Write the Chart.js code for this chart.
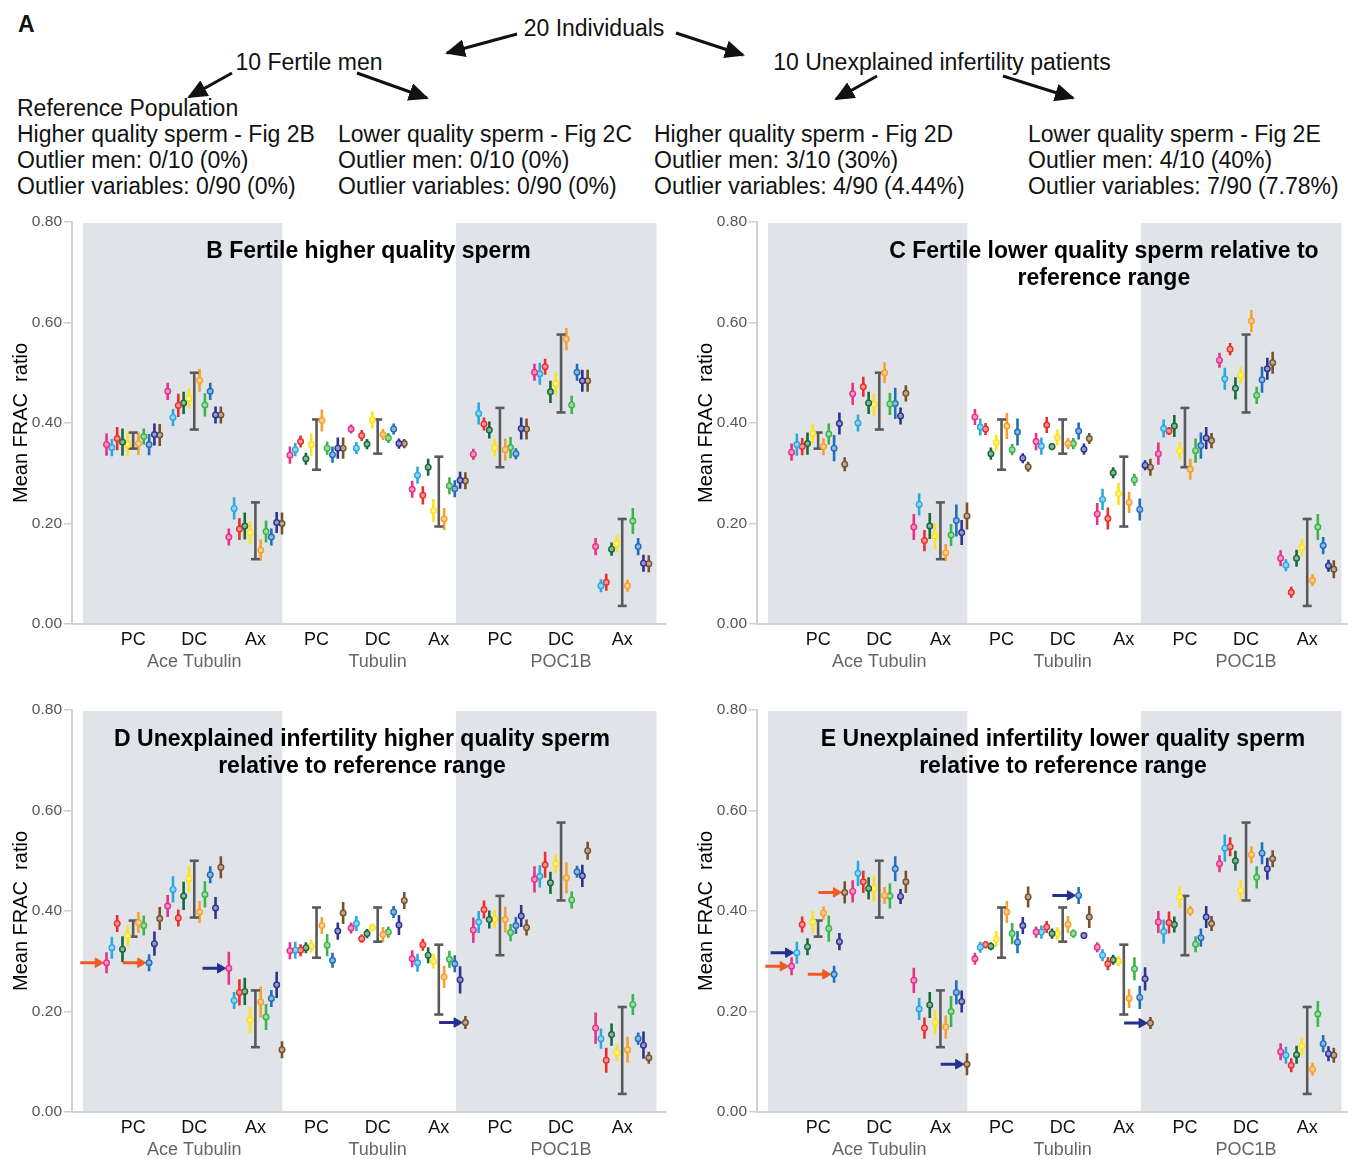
<!DOCTYPE html>
<html>
<head>
<meta charset="utf-8">
<script src="https://cdn.jsdelivr.net/npm/chart.js@4.4.0/dist/chart.umd.min.js"></script>
<style>
html, body { margin: 0; padding: 0; background: #fff; }
body { width: 1348px; height: 1159px; overflow: hidden; position: relative;
       font-family: 'Liberation Sans', Arial, Helvetica, sans-serif; color: #111; }
.t { position: absolute; font-size: 23px; line-height: 26px; white-space: nowrap; }
.c { text-align: center; }
canvas { position: absolute; }
svg { position: absolute; left: 0; top: 0; }
</style>
</head>
<body>
<div class="t" style="left:18px;top:11px;font-weight:bold;font-size:23px">A</div>
<div class="t c" style="left:444px;top:15px;width:300px">20 Individuals</div>
<div class="t c" style="left:159px;top:49px;width:300px">10 Fertile men</div>
<div class="t c" style="left:742px;top:49px;width:400px">10 Unexplained infertility patients</div>
<div class="t" style="left:17px;top:95px">Reference Population<br>Higher quality sperm - Fig 2B<br>Outlier men: 0/10 (0%)<br>Outlier variables: 0/90 (0%)</div>
<div class="t" style="left:338px;top:121px">Lower quality sperm - Fig 2C<br>Outlier men: 0/10 (0%)<br>Outlier variables: 0/90 (0%)</div>
<div class="t" style="left:654px;top:121px">Higher quality sperm - Fig 2D<br>Outlier men: 3/10 (30%)<br>Outlier variables: 4/90 (4.44%)</div>
<div class="t" style="left:1028px;top:121px">Lower quality sperm - Fig 2E<br>Outlier men: 4/10 (40%)<br>Outlier variables: 7/90 (7.78%)</div>

<svg width="1348" height="210">
  <defs>
    <marker id="ah" markerUnits="userSpaceOnUse" markerWidth="20" markerHeight="18" refX="18" refY="9" orient="auto">
      <path d="M0,0 L20,9 L0,18 z" fill="#111"/>
    </marker>
  </defs>
  <g stroke="#111" stroke-width="3" marker-end="url(#ah)">
    <line x1="517" y1="34" x2="447" y2="53"/>
    <line x1="676" y1="33" x2="743" y2="55"/>
    <line x1="232" y1="73" x2="189" y2="97"/>
    <line x1="357" y1="73" x2="427" y2="98"/>
    <line x1="877" y1="76" x2="836" y2="99"/>
    <line x1="1003" y1="76" x2="1073" y2="98"/>
  </g>
</svg>

<canvas id="panelB" width="675" height="470" style="left:0px;top:205px"></canvas>
<canvas id="panelC" width="675" height="470" style="left:685px;top:205px"></canvas>
<canvas id="panelD" width="675" height="470" style="left:0px;top:693px"></canvas>
<canvas id="panelE" width="675" height="470" style="left:685px;top:693px"></canvas>

<script>
// categories
const groups = ['PC', 'DC', 'Ax', 'PC', 'DC', 'Ax', 'PC', 'DC', 'Ax'];
const proteins = ['Ace Tubulin', 'Tubulin', 'POC1B'];
const proteinAt = [1, 4, 7];

// reference range of the fertile population, one per group
const refLow  = [0.349, 0.387, 0.129, 0.307, 0.339, 0.194, 0.312, 0.421, 0.036];
const refHigh = [0.381, 0.500, 0.242, 0.407, 0.407, 0.333, 0.430, 0.576, 0.209];

// one row per group, one value per man (10 men)
const meanB = [
  [0.357, 0.351, 0.369, 0.362, 0.357, 0.359, 0.373, 0.357, 0.377, 0.376],
  [0.463, 0.411, 0.435, 0.440, 0.449, 0.485, 0.436, 0.463, 0.416, 0.416],
  [0.173, 0.230, 0.189, 0.195, 0.182, 0.147, 0.184, 0.173, 0.202, 0.200],
  [0.336, 0.347, 0.363, 0.329, 0.357, 0.405, 0.350, 0.337, 0.350, 0.350],
  [0.388, 0.350, 0.375, 0.358, 0.406, 0.377, 0.370, 0.388, 0.359, 0.359],
  [0.268, 0.296, 0.256, 0.312, 0.226, 0.209, 0.275, 0.269, 0.286, 0.285],
  [0.338, 0.419, 0.398, 0.386, 0.351, 0.347, 0.351, 0.339, 0.389, 0.388],
  [0.501, 0.498, 0.512, 0.462, 0.478, 0.567, 0.436, 0.501, 0.484, 0.484],
  [0.154, 0.076, 0.083, 0.149, 0.160, 0.076, 0.205, 0.154, 0.121, 0.120]
];
const errB = [
  [0.022, 0.017, 0.023, 0.027, 0.023, 0.022, 0.016, 0.021, 0.022, 0.022],
  [0.017, 0.017, 0.023, 0.022, 0.020, 0.023, 0.023, 0.017, 0.017, 0.017],
  [0.017, 0.022, 0.022, 0.027, 0.023, 0.021, 0.022, 0.017, 0.021, 0.022],
  [0.017, 0.013, 0.012, 0.012, 0.022, 0.022, 0.013, 0.016, 0.021, 0.021],
  [0.009, 0.012, 0.011, 0.010, 0.017, 0.011, 0.010, 0.011, 0.010, 0.009],
  [0.017, 0.017, 0.018, 0.017, 0.023, 0.022, 0.017, 0.017, 0.017, 0.017],
  [0.011, 0.022, 0.013, 0.017, 0.017, 0.022, 0.021, 0.011, 0.022, 0.021],
  [0.017, 0.022, 0.016, 0.022, 0.023, 0.022, 0.018, 0.017, 0.022, 0.022],
  [0.017, 0.013, 0.017, 0.013, 0.017, 0.012, 0.026, 0.017, 0.017, 0.017]
];

const meanC = [
  [0.342, 0.357, 0.353, 0.359, 0.379, 0.353, 0.378, 0.350, 0.399, 0.318],
  [0.458, 0.400, 0.472, 0.440, 0.437, 0.500, 0.438, 0.439, 0.414, 0.459],
  [0.193, 0.238, 0.166, 0.195, 0.175, 0.142, 0.177, 0.206, 0.182, 0.215],
  [0.412, 0.392, 0.388, 0.339, 0.361, 0.394, 0.347, 0.382, 0.330, 0.313],
  [0.363, 0.354, 0.396, 0.353, 0.371, 0.359, 0.359, 0.384, 0.348, 0.369],
  [0.219, 0.248, 0.210, 0.301, 0.259, 0.242, 0.287, 0.228, 0.316, 0.312],
  [0.339, 0.389, 0.384, 0.394, 0.345, 0.308, 0.345, 0.355, 0.370, 0.365],
  [0.525, 0.488, 0.547, 0.469, 0.495, 0.603, 0.455, 0.486, 0.508, 0.520],
  [0.131, 0.117, 0.063, 0.131, 0.152, 0.087, 0.193, 0.156, 0.116, 0.109]
];
const errC = [
  [0.017, 0.022, 0.017, 0.022, 0.020, 0.017, 0.021, 0.026, 0.022, 0.014],
  [0.022, 0.017, 0.020, 0.022, 0.022, 0.021, 0.022, 0.031, 0.017, 0.016],
  [0.026, 0.022, 0.021, 0.026, 0.026, 0.017, 0.022, 0.032, 0.025, 0.027],
  [0.016, 0.017, 0.012, 0.012, 0.016, 0.026, 0.011, 0.027, 0.010, 0.010],
  [0.017, 0.017, 0.016, 0.007, 0.016, 0.011, 0.011, 0.017, 0.011, 0.011],
  [0.022, 0.021, 0.022, 0.011, 0.022, 0.021, 0.012, 0.022, 0.010, 0.017],
  [0.022, 0.018, 0.008, 0.022, 0.017, 0.021, 0.024, 0.026, 0.022, 0.015],
  [0.015, 0.022, 0.012, 0.022, 0.017, 0.022, 0.017, 0.026, 0.022, 0.022],
  [0.016, 0.012, 0.011, 0.017, 0.017, 0.012, 0.026, 0.017, 0.012, 0.018]
];

const meanD = [
  [0.297, 0.327, 0.375, 0.324, 0.351, 0.377, 0.371, 0.297, 0.335, 0.385],
  [0.410, 0.443, 0.386, 0.430, 0.464, 0.398, 0.433, 0.472, 0.406, 0.487],
  [0.286, 0.222, 0.238, 0.240, 0.183, 0.219, 0.189, 0.226, 0.253, 0.124],
  [0.321, 0.322, 0.322, 0.327, 0.330, 0.371, 0.332, 0.302, 0.360, 0.396],
  [0.366, 0.375, 0.345, 0.355, 0.367, 0.353, 0.358, 0.398, 0.372, 0.421],
  [0.305, 0.297, 0.333, 0.312, 0.300, 0.269, 0.304, 0.295, 0.263, 0.178],
  [0.362, 0.378, 0.403, 0.383, 0.384, 0.383, 0.357, 0.371, 0.390, 0.367],
  [0.463, 0.469, 0.492, 0.456, 0.494, 0.466, 0.422, 0.478, 0.470, 0.520],
  [0.167, 0.146, 0.103, 0.154, 0.118, 0.124, 0.214, 0.146, 0.133, 0.108]
];
const errD = [
  [0.021, 0.022, 0.017, 0.026, 0.021, 0.021, 0.020, 0.017, 0.024, 0.023],
  [0.022, 0.026, 0.017, 0.028, 0.026, 0.022, 0.026, 0.017, 0.022, 0.022],
  [0.033, 0.017, 0.026, 0.027, 0.026, 0.031, 0.026, 0.017, 0.026, 0.017],
  [0.017, 0.017, 0.012, 0.011, 0.013, 0.017, 0.022, 0.015, 0.017, 0.022],
  [0.011, 0.015, 0.008, 0.009, 0.008, 0.015, 0.011, 0.012, 0.020, 0.017],
  [0.017, 0.018, 0.012, 0.016, 0.015, 0.022, 0.017, 0.017, 0.027, 0.013],
  [0.025, 0.022, 0.018, 0.018, 0.018, 0.026, 0.017, 0.017, 0.022, 0.016],
  [0.026, 0.022, 0.026, 0.022, 0.019, 0.031, 0.017, 0.012, 0.022, 0.018],
  [0.031, 0.020, 0.025, 0.022, 0.017, 0.026, 0.021, 0.012, 0.027, 0.012]
];

const meanE = [
  [0.290, 0.317, 0.373, 0.329, 0.378, 0.396, 0.365, 0.274, 0.339, 0.437],
  [0.439, 0.475, 0.458, 0.445, 0.445, 0.431, 0.430, 0.484, 0.429, 0.458],
  [0.262, 0.205, 0.167, 0.213, 0.178, 0.169, 0.200, 0.238, 0.220, 0.095],
  [0.305, 0.328, 0.333, 0.330, 0.344, 0.398, 0.355, 0.338, 0.371, 0.428],
  [0.358, 0.358, 0.368, 0.355, 0.355, 0.373, 0.355, 0.431, 0.351, 0.388],
  [0.328, 0.312, 0.295, 0.303, 0.300, 0.226, 0.285, 0.228, 0.265, 0.177],
  [0.378, 0.359, 0.377, 0.373, 0.428, 0.400, 0.334, 0.347, 0.388, 0.375],
  [0.494, 0.525, 0.528, 0.500, 0.441, 0.512, 0.467, 0.515, 0.484, 0.504],
  [0.120, 0.113, 0.093, 0.114, 0.131, 0.085, 0.195, 0.136, 0.116, 0.113]
];
const errE = [
  [0.018, 0.022, 0.016, 0.017, 0.022, 0.013, 0.026, 0.017, 0.017, 0.022],
  [0.022, 0.025, 0.022, 0.022, 0.026, 0.017, 0.025, 0.025, 0.015, 0.022],
  [0.025, 0.022, 0.021, 0.026, 0.025, 0.023, 0.031, 0.024, 0.022, 0.022],
  [0.012, 0.011, 0.007, 0.008, 0.016, 0.022, 0.021, 0.022, 0.017, 0.021],
  [0.011, 0.013, 0.012, 0.010, 0.013, 0.017, 0.008, 0.017, 0.006, 0.022],
  [0.010, 0.012, 0.013, 0.010, 0.010, 0.019, 0.023, 0.023, 0.023, 0.012],
  [0.022, 0.024, 0.022, 0.016, 0.022, 0.010, 0.016, 0.018, 0.022, 0.015],
  [0.017, 0.027, 0.019, 0.020, 0.021, 0.017, 0.022, 0.022, 0.022, 0.017],
  [0.017, 0.017, 0.014, 0.018, 0.018, 0.013, 0.026, 0.017, 0.015, 0.015]
];

// outliers flagged with an arrow: [group, man, kind]
const outliersD = [[0, 0, 'o'], [0, 7, 'o'], [2, 0, 'n'], [5, 9, 'n']];
const outliersE = [[0, 0, 'o'], [0, 1, 'n'], [0, 9, 'o'], [0, 7, 'o'], [2, 9, 'n'], [4, 7, 'n'], [5, 9, 'n']];

// styling
const manColors = ['#e7318a', '#29a9e0', '#ec2d2d', '#17693a', '#fde21a',
                   '#f8a02b', '#3bb54a', '#1f6fbd', '#2d3390', '#77512b'];
const arrowColors = { o: '#f15a24', n: '#262f8c' };
const FONT = "'Liberation Sans', Arial, Helvetica, sans-serif";
const SLOT = 0.087;
const BANDS = [[-0.82, 2.44], [5.28, 8.56]];

function slotX(g, k) {
  return g + (k < 5 ? k - 5 : k - 4) * SLOT;
}

function tint(hex, t) {
  const n = parseInt(hex.slice(1), 16);
  const r = (n >> 16) & 255, g = (n >> 8) & 255, b = n & 255;
  const mix = c => Math.round(c + (255 - c) * t);
  return 'rgb(' + mix(r) + ',' + mix(g) + ',' + mix(b) + ')';
}

const panelDecor = {
  id: 'panelDecor',
  beforeDatasetsDraw(chart) {
    const { ctx, chartArea: a } = chart;
    const x = chart.scales.x;
    ctx.save();
    ctx.fillStyle = '#e0e4e8';
    BANDS.forEach(([s, e]) => {
      const x0 = x.getPixelForValue(s), x1 = x.getPixelForValue(e);
      ctx.fillRect(x0, a.top + 1, x1 - x0, a.bottom - a.top - 2);
    });
    ctx.restore();
  },
  afterDraw(chart, args, opts) {
    const { ctx, chartArea: a } = chart;
    ctx.save();
    ctx.fillStyle = '#000';
    ctx.font = 'bold 23px ' + FONT;
    ctx.textAlign = 'center';
    ctx.textBaseline = 'middle';
    const cx = a.left + (a.right - a.left) * opts.cx;
    opts.lines.forEach((line, i) => ctx.fillText(line, cx, a.top + 30 + i * 27));
    ctx.restore();
  }
};

function makePanel(id, means, errs, outliers, titleLines, titleCx) {
  const datasets = [];

  manColors.forEach((col, k) => {
    datasets.push({
      type: 'line',
      data: groups.flatMap((_, g) => [
        { x: slotX(g, k), y: means[g][k] - errs[g][k] },
        { x: slotX(g, k), y: means[g][k] + errs[g][k] },
        { x: slotX(g, k), y: null }
      ]),
      borderColor: col,
      borderWidth: 2.6,
      pointRadius: 0,
      order: 2
    });
    datasets.push({
      type: 'line',
      showLine: false,
      data: groups.map((_, g) => ({ x: slotX(g, k), y: means[g][k] })),
      pointRadius: 2.8,
      pointHoverRadius: 2.8,
      pointBorderWidth: 1.4,
      pointBorderColor: col,
      pointBackgroundColor: tint(col, 0.5),
      order: 0
    });
  });

  datasets.push({
    type: 'line',
    data: groups.flatMap((_, g) => [
      { x: g, y: refLow[g] }, { x: g, y: refHigh[g] }, { x: g, y: null }
    ]),
    borderColor: '#5a5a5a',
    borderWidth: 2.6,
    pointStyle: 'line',
    pointRadius: 4.5,
    pointBorderWidth: 2.6,
    pointBorderColor: '#5a5a5a',
    order: 1
  });

  Object.keys(arrowColors).forEach(kind => {
    const list = outliers.filter(o => o[2] === kind);
    if (!list.length) return;
    datasets.push({
      type: 'line',
      data: list.flatMap(([g, k]) => [
        { x: slotX(g, k) - 0.43, y: means[g][k] },
        { x: slotX(g, k) - 0.14, y: means[g][k] },
        { x: slotX(g, k), y: null }
      ]),
      borderColor: arrowColors[kind],
      borderWidth: 3,
      pointStyle: 'triangle',
      rotation: 90,
      pointRadius: c => (c.dataIndex % 3 === 1 ? 5.5 : 0),
      pointHoverRadius: c => (c.dataIndex % 3 === 1 ? 5.5 : 0),
      pointBackgroundColor: arrowColors[kind],
      pointBorderColor: arrowColors[kind],
      pointBorderWidth: 1,
      order: 0
    });
  });

  return new Chart(document.getElementById(id), {
    type: 'line',
    data: { datasets },
    options: {
      responsive: false,
      animation: false,
      events: [],
      layout: { padding: { top: 17, right: 10, left: 0, bottom: 0 } },
      plugins: {
        legend: { display: false },
        tooltip: { enabled: false },
        panelDecor: { lines: titleLines, cx: titleCx }
      },
      scales: {
        x: {
          type: 'linear',
          position: 'bottom',
          min: -1,
          max: 8.7,
          weight: 0,
          grid: { display: false, drawTicks: false },
          border: { display: true, color: '#d2d2d2', width: 2 },
          afterBuildTicks: s => { s.ticks = groups.map((_, i) => ({ value: i })); },
          afterFit: s => { s.height = 27; },
          ticks: {
            autoSkip: false,
            maxRotation: 0,
            padding: 5,
            color: '#111',
            font: { family: FONT, size: 18 },
            callback: (v, i) => groups[i]
          }
        },
        x2: {
          type: 'linear',
          position: 'bottom',
          min: -1,
          max: 8.7,
          weight: 1,
          grid: { display: false, drawTicks: false },
          border: { display: false },
          afterBuildTicks: s => { s.ticks = proteinAt.map(v => ({ value: v })); },
          afterFit: s => { s.height = 24; },
          ticks: {
            autoSkip: false,
            maxRotation: 0,
            padding: 0,
            color: '#666',
            font: { family: FONT, size: 18 },
            callback: (v, i) => proteins[i]
          }
        },
        y: {
          min: 0,
          max: 0.8,
          afterFit: s => { s.width = 72; },
          grid: { display: true, drawOnChartArea: false, drawTicks: true, tickLength: 8,
                  color: '#cfcfcf', lineWidth: 1.5 },
          border: { display: true, color: '#d2d2d2', width: 2 },
          ticks: {
            stepSize: 0.2,
            padding: 2,
            color: '#555',
            font: { family: FONT, size: 15.5 },
            callback: v => v.toFixed(2)
          },
          title: {
            display: true,
            text: 'Mean FRAC  ratio',
            color: '#000',
            font: { family: FONT, size: 20 },
            padding: { top: 9, bottom: 0 }
          }
        }
      }
    },
    plugins: [panelDecor]
  });
}

makePanel('panelB', meanB, errB, [], ['B Fertile higher quality sperm'], 0.5);
makePanel('panelC', meanC, errC, [], ['C Fertile lower quality sperm relative to', 'reference range'], 0.585);
makePanel('panelD', meanD, errD, outliersD, ['D Unexplained infertility higher quality sperm', 'relative to reference range'], 0.489);
makePanel('panelE', meanE, errE, outliersE, ['E Unexplained infertility lower quality sperm', 'relative to reference range'], 0.516);
</script>
</body>
</html>
